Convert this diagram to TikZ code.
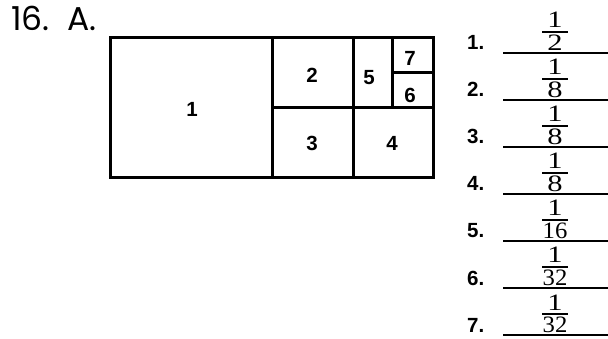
\documentclass[tikz,border=0pt]{standalone}
\usepackage{fontspec}
\usepackage{graphicx}
\usetikzlibrary{positioning}
\setmainfont{Liberation Serif}
\newfontfamily\titlefont{Poppins}
\newfontfamily\labelfont{Liberation Sans}
\newcommand{\wdig}[1]{\scalebox{1.3}[1]{#1}}
\newcommand{\wpair}[1]{\scalebox{1.05}[1]{#1}}

\begin{document}
\begin{tikzpicture}[
  x=1pt,y=-1pt,
  cell/.style={line width=3pt,line cap=rect},
  celllabel/.style={font=\labelfont\bfseries\fontsize{20.5}{20.5}\selectfont,inner sep=0pt},
  numlabel/.style={font=\labelfont\bfseries\fontsize{20.5}{20.5}\selectfont,inner sep=0pt,anchor=base west},
  ansline/.style={line width=1.8pt},
  fracbar/.style={fill=black,inner sep=0pt,minimum width=26pt,minimum height=1.2pt},
  fracdigit/.style={font=\fontsize{23.5}{23.5}\selectfont,inner sep=0pt},
  title/.style={font=\titlefont\fontsize{33}{33}\selectfont,inner sep=0pt,anchor=base west}
]
\useasboundingbox (0,0) rectangle (608,339);

\node[title] (head) at (11,31) {16.\ \ A.};

% the rectangle and its parts
\draw[cell] (110,38) rectangle (433,178);
\draw[cell] (272,38) -- (272,178);
\draw[cell] (353,38) -- (353,178);
\draw[cell] (272,108) -- (433,108);
\draw[cell] (392,38) -- (392,108);
\draw[cell] (392,73) -- (433,73);

\node[celllabel] (c1) at (192,109) {1};
\node[celllabel] (c2) at (312,75) {2};
\node[celllabel] (c3) at (312,143) {3};
\node[celllabel] (c4) at (392,143) {4};
\node[celllabel] (c5) at (369,78) {5};
\node[celllabel] (c6) at (410,95) {6};
\node[celllabel] (c7) at (410,58) {7};

% answers
\foreach \i/\den in {1/\wdig{2},2/\wdig{8},3/\wdig{8},4/\wdig{8},5/\wpair{16},6/\wpair{32},7/\wpair{32}}{
  \pgfmathsetmacro{\L}{53+47*(\i-1)}
  \node[numlabel] (n\i) at (467,\L-3) {\i.};
  \coordinate (a\i) at (503,\L);
  \coordinate (b\i) at (608,\L);
  \draw[ansline] (a\i) -- (b\i);
  \node[fracbar] (f\i) at (555,\L-21) {};
  \node[fracdigit,above=3pt of f\i] (t\i) {\wdig{1}};
  \node[fracdigit,below=2.2pt of f\i] (d\i) {\den};
}
\end{tikzpicture}
\end{document}
